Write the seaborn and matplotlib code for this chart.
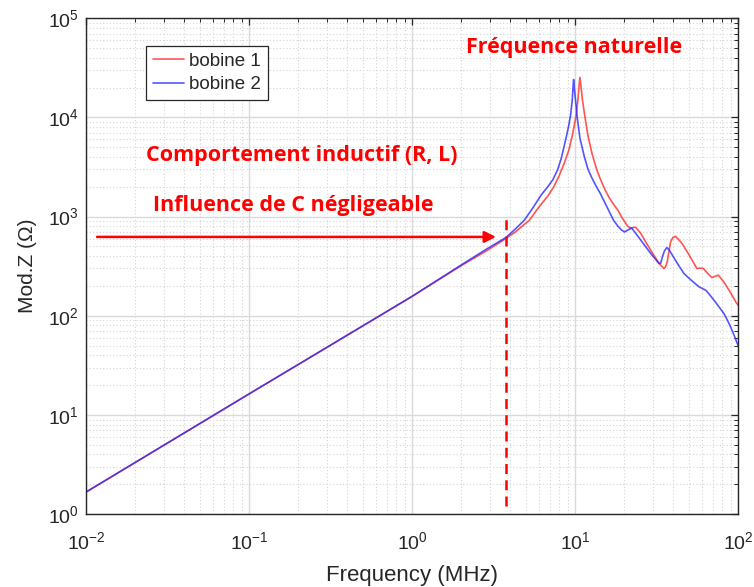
import matplotlib
matplotlib.use('Agg')
import matplotlib.pyplot as plt
import matplotlib.ticker as mticker
import seaborn as sns

# ── Données (f en MHz, |Z| en ohms) ───────────────────────────────────────
f_bobine1 = [0.01, 0.1, 0.3, 1.0, 2.0, 2.9, 3.76, 4.3, 4.86, 5.22, 6.0, 6.82,
             7.4, 8.0, 8.6, 9.15, 9.6, 10.1, 10.4, 10.55, 10.7, 10.85, 11.1,
             11.5, 12.0, 12.7, 13.6, 14.5, 15.3, 16.2, 17.2, 18.3, 19.5, 21.0,
             22.0, 22.8, 23.6, 25.3, 27.0, 29.1, 32.7, 35.0, 35.8, 36.7, 38.5,
             39.8, 41.2, 43.0, 45.3, 50.8, 55.8, 58.0, 61.2, 65.0, 68.9, 72.0,
             75.5, 79.0, 82.8, 90.0, 97.5, 100.0]
z_bobine1 = [1.67, 16.3, 48, 157, 320, 458, 600, 700, 830, 910, 1250, 1620,
             2000, 2600, 3500, 4670, 6500, 10000, 14900, 20000, 25300, 21000,
             14900, 10000, 6500, 4300, 2940, 2250, 1850, 1550, 1330, 1160, 960,
             800, 759, 780, 777, 676, 560, 458, 337, 300, 310, 349, 556,
             615, 634, 590, 535, 393, 300, 302, 300, 268, 243, 250,
             257, 235, 212, 170, 135, 128]

f_bobine2 = [0.01, 0.1, 0.3, 1.0, 2.0, 2.9, 3.76, 4.3, 4.88, 5.5, 6.19, 6.8,
             7.3, 7.8, 8.2, 8.45, 8.8, 9.1, 9.38, 9.6, 9.7, 9.79, 9.9, 10.1,
             10.3, 10.7, 11.4, 12.0, 12.6, 13.3, 14.3, 15.5, 16.3, 17.2, 18.3,
             19.3, 20.1, 21.0, 22.2, 23.5, 25.3, 29.1, 32.7, 33.5, 34.3, 35.3,
             36.5, 37.8, 39.5, 42.5, 46.5, 51.0, 57.5, 63.3, 66.5, 71.0, 76.0,
             81.9, 86.0, 90.0, 95.0, 100.0]
z_bobine2 = [1.67, 16.3, 48, 157, 325, 477, 615, 750, 920, 1220, 1650, 2000,
             2350, 2950, 3800, 4670, 6200, 8000, 10500, 14900, 19500, 24100,
             19500, 14000, 10000, 6200, 4000, 3000, 2500, 2100, 1700, 1300,
             1100, 920, 800, 730, 701, 730, 769, 680, 578, 425, 337, 340, 393,
             450, 488, 460, 408, 335, 267, 232, 196, 181, 165, 144, 124, 105,
             90, 77, 62, 50]

# Annotations (coordonnées données)
F_LIMITE = 3.76          # ligne verticale pointillée
Z_FLECHE = 624           # hauteur de la flèche
F_FLECHE = (0.0117, 3.27)
Z_POINTILLE = (1.22, 1050)

sns.set_theme(style="white")
plt.rcParams['font.family'] = ['Liberation Sans', 'DejaVu Sans']
plt.rcParams['axes.unicode_minus'] = False

fig = plt.figure(figsize=(7.54, 5.87), dpi=100)
ax = fig.add_axes([0.114, 0.124, 0.865, 0.845])

sns.lineplot(x=f_bobine1, y=z_bobine1, color='#ff2a2a', alpha=0.8, lw=1.2,
             label='bobine 1', ax=ax)
sns.lineplot(x=f_bobine2, y=z_bobine2, color='#2a2aff', alpha=0.8, lw=1.2,
             label='bobine 2', ax=ax)

ax.set_xscale('log')
ax.set_yscale('log')
ax.set_xlim(1e-2, 1e2)
ax.set_ylim(1e0, 1e5)

# grille façon MATLAB
ax.grid(True, which='major', color='#dadada', lw=1.0, ls='-')
ax.grid(True, which='minor', color='#d4d4d4', lw=0.8, ls=(0, (1, 2)))
ax.set_axisbelow(True)
ax.xaxis.set_minor_locator(mticker.LogLocator(base=10, subs=range(2, 10), numticks=20))
ax.yaxis.set_minor_locator(mticker.LogLocator(base=10, subs=range(2, 10), numticks=20))
ax.xaxis.set_minor_formatter(mticker.NullFormatter())
ax.yaxis.set_minor_formatter(mticker.NullFormatter())
ax.tick_params(which='both', direction='in', top=True, right=True,
               colors='#262626', labelcolor='#262626')
ax.tick_params(which='major', length=5, width=0.9, labelsize=14)
ax.tick_params(axis='x', which='major', pad=12.5)
ax.tick_params(axis='y', which='major', pad=5)
ax.tick_params(which='minor', length=3, width=0.7)
for s in ax.spines.values():
    s.set_color('#262626')
    s.set_linewidth(1.0)

ax.set_xlabel('Frequency (MHz)', fontsize=16, color='#262626', labelpad=8)
ax.set_ylabel('Mod.Z (Ω)', fontsize=15, color='#262626', labelpad=8)

# flèche + ligne pointillée
ax.plot([F_LIMITE, F_LIMITE], list(Z_POINTILLE), color='red', lw=1.8,
        ls=(0, (4, 2.5)))
ax.annotate('', xy=(F_FLECHE[1], Z_FLECHE), xytext=(F_FLECHE[0], Z_FLECHE),
            arrowprops=dict(arrowstyle='-|>', color='red', lw=1.8,
                            mutation_scale=17, shrinkA=0, shrinkB=0))

txt = dict(color='red', fontweight='bold', fontsize=15.5,
           family=['Open Sans', 'DejaVu Sans'], va='center', ha='left')
ax.text(2.14, 51000, 'Fréquence naturelle', **txt)
ax.text(0.0233, 4160, 'Comportement inductif (R, L)', **txt)
ax.text(0.0258, 1303, 'Influence de C négligeable', **txt)

leg = ax.legend(loc='upper left', bbox_to_anchor=(0.092, 0.944),
                borderaxespad=0, fontsize=13.5, handlelength=1.7,
                handletextpad=0.25, borderpad=0.35, labelspacing=0.35,
                fancybox=False, framealpha=1, edgecolor='#262626')
leg.get_frame().set_linewidth(0.9)

fig.savefig('out.png', dpi=100)
